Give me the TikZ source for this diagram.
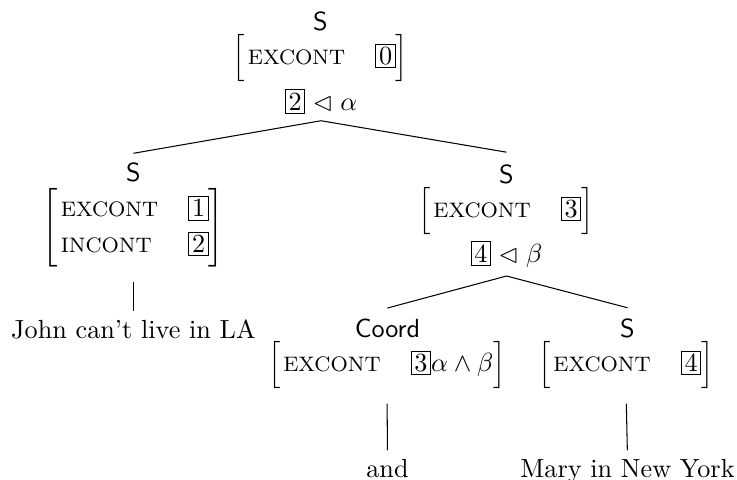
\documentclass[tikz,border=0pt]{standalone}
\usepackage{amssymb}
\usepackage{amsmath}
\newcommand{\tagbox}[1]{{\setlength{\fboxsep}{1pt}\fbox{$#1$}}}
\newcommand{\feat}[1]{\text{\footnotesize #1}}
\newcommand{\avmone}[1]{$\Bigl[\begin{array}{@{\hspace{1pt}}l@{\hspace{11.5pt}}l@{\hspace{0pt}}}#1\end{array}\Bigr]$}
\newcommand{\avmtwo}[1]{$\renewcommand{\arraystretch}{1.12}\Biggl[\begin{array}{@{\hspace{1pt}}l@{\hspace{11.5pt}}l@{\hspace{0pt}}}#1\end{array}\Biggr]$}
\begin{document}
\begin{tikzpicture}[x=0.3817pt,y=-0.3817pt,
  every node/.style={inner sep=0pt},
  cat/.style={font=\sffamily, anchor=base},
  avmnode/.style={anchor=center},
  txt/.style={anchor=base},
  leaf/.style={shorten <=5.5pt, shorten >=3pt}]
\useasboundingbox (0,0) rectangle (737,479);
% root
\node[cat] (tS) at (320.5,31) {S};
\node[avmnode] (tA) at (320.5,58) {\avmone{\feat{EXCONT} & \tagbox{0}}};
\node[txt] (tC) at (321,110) {$\tagbox{2}\mathrel{\lhd}\alpha$};
\coordinate (tApex) at ([yshift=-2.5pt]tC.south);
% left S
\node[cat] (lS) at (133.5,182) {S};
\node[avmnode] (lA) at (133.5,227.5) {\avmtwo{\feat{EXCONT} & \tagbox{1}\\ \feat{INCONT} & \tagbox{2}}};
\node[txt] (lL) at (133.5,338) {John can't live in LA};
% right S
\node[cat] (rS) at (506.5,183) {S};
\node[avmnode] (rA) at (506,211.5) {\avmone{\feat{EXCONT} & \tagbox{3}}};
\node[txt] (rC) at (506.5,262) {$\tagbox{4}\mathrel{\lhd}\beta$};
\coordinate (rApex) at ([yshift=-3.2pt]rC.south);
% Coord
\node[cat] (cS) at (387.5,337) {Coord};
\node[avmnode] (cA) at (387,365) {\avmone{\feat{EXCONT} & \tagbox{3}\alpha\wedge\beta}};
\node[txt] (cL) at (387.5,477) {and};
% S bottom right
\node[cat] (sS) at (627.5,337) {S};
\node[avmnode] (sA) at (626,365) {\avmone{\feat{EXCONT} & \tagbox{4}}};
\node[txt] (sL) at (627.5,477) {Mary in New York};
% edges
\draw (tApex) -- ([yshift=3.6pt]lS.north);
\draw (tApex) -- ([yshift=4.4pt]rS.north);
\draw[leaf] (lA.south) -- (lL.north);
\draw (rApex) -- ([yshift=3.8pt]cS.north);
\draw (rApex) -- ([yshift=3.8pt]sS.north);
\draw[leaf] (cA.south) -- (cL.north);
\draw[leaf] (sA.south) -- (sL.north);
\end{tikzpicture}
\end{document}
